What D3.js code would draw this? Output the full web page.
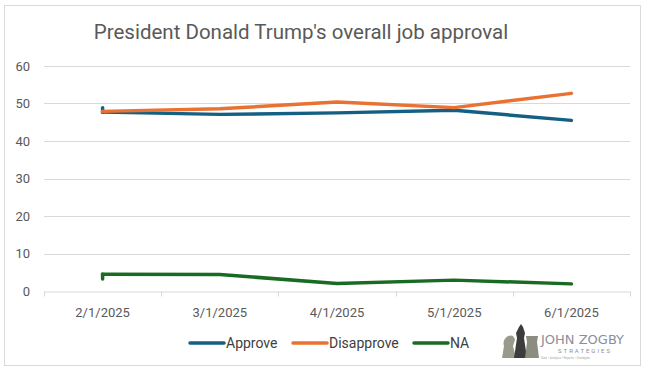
<!DOCTYPE html>
<html>
<head>
<meta charset="utf-8">
<script src="https://cdn.jsdelivr.net/npm/d3@7"></script>
<style>
  body { margin:0; background:#fff; }
  text { font-family: Roboto, "Liberation Sans", sans-serif; }
</style>
</head>
<body>
<div id="chart"></div>
<script>
// data
var dates = ["2/1/2025","3/1/2025","4/1/2025","5/1/2025","6/1/2025"]
var approve = [47.7, 47.1, 47.5, 48.2, 45.5]
var disapprove = [47.9, 48.6, 50.4, 48.9, 52.7]
var na = [4.5, 4.4, 2.0, 2.9, 1.9]
// little stub each line starts with at the first date
var stubStart = [48.9, 47.9, 3.2]
var seriesNames = ["Approve","Disapprove","NA"]
var seriesColors = ["#156082","#E97132","#196B24"]
var yTicks = [0,10,20,30,40,50,60]

var W = 650, H = 373

var svg = d3.select("#chart").append("svg")
  .attr("width", W).attr("height", H)

// chart frame
svg.append("rect")
  .attr("x", 4.5).attr("y", 5.5).attr("width", 636).attr("height", 360)
  .attr("fill", "#fff").attr("stroke", "#d9d9d9")

svg.append("text")
  .attr("x", 301).attr("y", 39)
  .attr("text-anchor", "middle")
  .style("font-size", "20.5px")
  .attr("fill", "#595959")
  .text("President Donald Trump's overall job approval")

var x = d3.scaleBand().domain(dates).range([44, 630])
var y = d3.scaleLinear().domain([0, 60]).range([291, 66])

// gridlines
svg.append("g").selectAll("line").data(yTicks.slice(1)).enter()
  .append("line")
  .attr("x1", 44).attr("x2", 630)
  .attr("y1", function(d){return Math.round(y(d)) + 0.5})
  .attr("y2", function(d){return Math.round(y(d)) + 0.5})
  .attr("stroke", "#d9d9d9")

// y labels
svg.append("g").selectAll("text").data(yTicks).enter()
  .append("text")
  .attr("x", 30).attr("y", function(d){return y(d) + 4.5})
  .attr("text-anchor", "end")
  .style("font-size", "13px")
  .attr("fill", "#595959")
  .text(function(d){return d})

// x axis
var xAxis = d3.axisBottom(x).tickSize(0).tickPadding(16)
var gx = svg.append("g").attr("transform", "translate(0,291.5)").call(xAxis)
gx.select(".domain").attr("stroke", "#d9d9d9")
gx.selectAll("text").style("font-size", "13px").attr("fill", "#595959")
  .style("font-family", "Roboto, sans-serif")
var bounds = dates.map(function(d){return x(d)}).concat([x.range()[1]])
gx.selectAll(".bnd").data(bounds).enter().append("line")
  .attr("x1", function(d){return Math.round(d)+0.5})
  .attr("x2", function(d){return Math.round(d)+0.5})
  .attr("y1", 0).attr("y2", 5).attr("stroke", "#d9d9d9")

// lines
var cx = function(d){return x(d) + x.bandwidth()/2}
var line = d3.line()
  .x(function(d, i){return cx(dates[i])})
  .y(function(d){return y(d)})

var allSeries = [approve, disapprove, na]
// orange sits on top of blue at the start in the picture
var order = [0, 2, 1]
order.forEach(function(k){
  var vals = allSeries[k]
  var g = svg.append("g")
  g.append("path")
    .attr("d", line(vals))
    .attr("fill", "none")
    .attr("stroke", seriesColors[k])
    .attr("stroke-width", 3.5)
    .attr("stroke-linecap", "round")
    .attr("stroke-linejoin", "round")
  g.append("line")
    .attr("x1", cx(dates[0])).attr("x2", cx(dates[0]))
    .attr("y1", y(stubStart[k])).attr("y2", y(vals[0]))
    .attr("stroke", seriesColors[k])
    .attr("stroke-width", 3.5)
    .attr("stroke-linecap", "round")
})

// legend
var legendX = [190, 293, 414]
var lg = svg.append("g")
seriesNames.forEach(function(n, i){
  lg.append("line")
    .attr("x1", legendX[i]).attr("x2", legendX[i] + 34)
    .attr("y1", 343).attr("y2", 343)
    .attr("stroke", seriesColors[i]).attr("stroke-width", 3.5)
    .attr("stroke-linecap", "round")
  lg.append("text")
    .attr("x", legendX[i] + 36).attr("y", 348)
    .style("font-size", "14px")
    .attr("fill", "#404040")
    .text(n)
})

// logo (rough)
var logo = svg.append("g").attr("transform", "translate(500,324)")
logo.append("path")
  .attr("d", "M2,34 L4,22 Q2,16 8,12 Q14,10 15,16 L13,22 L16,34 Z")
  .attr("fill", "#9a9a8a")
logo.append("path")
  .attr("d", "M14,34 L17,14 L16,9 L19,3 L21,0 L23,3 L25,9 L24,14 L27,34 Z")
  .attr("fill", "#3c3c3c")
logo.append("path")
  .attr("d", "M25,34 L27,18 L26,12 L38,12 L37,18 L39,34 Z")
  .attr("fill", "#8c8c80")
logo.append("text")
  .attr("x", 41).attr("y", 20)
  .style("font-size", "13px")
  .style("font-family", "'DejaVu Sans', sans-serif")
  .attr("fill", "#8a8f9a")
  .text("JOHN ZOGBY")
logo.append("text")
  .attr("x", 58).attr("y", 29)
  .style("font-size", "6px")
  .attr("letter-spacing", "2px")
  .attr("fill", "#8a8f9a")
  .text("STRATEGIES")
logo.append("text")
  .attr("x", 41).attr("y", 35)
  .style("font-size", "3px")
  .attr("fill", "#aaa")
  .text("Data • Analysis • Reports • Strategies")
</script>
</body>
</html>
